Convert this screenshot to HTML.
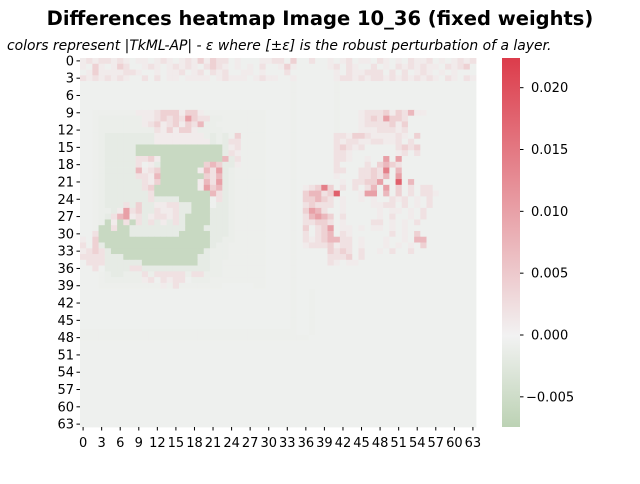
<!DOCTYPE html>
<html><head><meta charset="utf-8"><style>
body{margin:0;background:#fff;width:640px;height:480px;overflow:hidden;font-family:"DejaVu Sans","Liberation Sans",sans-serif}
</style></head><body>
<svg id="fig" width="640" height="480" xmlns="http://www.w3.org/2000/svg" style="font-family:'DejaVu Sans','Liberation Sans',sans-serif">
<defs><linearGradient id="cbg" x1="0" y1="1" x2="0" y2="0">
<stop offset="0" stop-color="#bcd2b4"/><stop offset="0.247" stop-color="#f2f2f2"/><stop offset="1" stop-color="#dc3c4b"/></linearGradient></defs>
<text x="320" y="25" text-anchor="middle" font-size="19.5" font-weight="bold">Differences heatmap Image 10_36 (fixed weights)</text>
<text x="7" y="50" font-size="13.9" font-style="italic">colors represent |TkML-AP| - ε where [±ε] is the robust perturbation of a layer.</text>
<g id="cells"></g>
<g id="axes"></g>
<rect x="502" y="58" width="18" height="369" fill="url(#cbg)"/>
<g id="cbticks"></g>
</svg>
<script>
const rows = [
"01011010 .00.010. 01020211 .0...001 1.2..1.. 0.01.00. 10.0.100 1.0.0101",
"0.20.021 ..010.01 010.1210 .0.0.1.. 020..... 01.10..1 .0.10101 00.1012.",
".0200001 10..0.00 1.01.101 ..00.0.. .1...... .0.10011 1.1.1.01 0.0.0...",
"10101010 ..1.1.00 .0000.01 000.0100 ..0..... .0110101 10101010 10.10.10",
"........ ........ ........ ........ ..f..... .f...... ........ ........",
"........ ........ ........ ........ ..f..... .f...... ........ ........",
"........ ........ ........ ........ ..f..... .f...... ........ ........",
"........ ........ ........ ........ ..f..... .f...... ........ ........",
"........ ........ ........ ........ ..f..... .f...... ........ ........",
"..ffffff f0001222 0220ffff ffffff.. ..f..... .f...011 12021300 ........",
"..fggggg gg001212 14211ggf ffffff.. ..f..... .f...012 14221... ........",
"..fggggg gg012012 0213ggff ffffff.. ..f..... .f...011 11202... ........",
"..fggggg gggg1020 220ggggf ffffff.. ..f..... .f...000 11101... ........",
"..fghhhh hhhh0000 0000ghgh f2ffff.. ..f..... .1102210 00010.2. ........",
"..fghhhh hhhh0000 00000hgh 11ffff.. ..f..... .1011001 1001.1.. ........",
"..fghhhh hGGGGGGG GGGGGGGh 01ffff.. ..f..... .12101.. ...1212. ........",
"..fghhhh hGGGGGGG GGGGGGGh 10ffff.. ..f..... .110.... ...01.1. ........",
"..fghhhh h1120GGG GGGGGGG3 h1ffff.. ..f..... .110..0. .4.4.... ........",
"..fghhhh h1.0hGGG GGGG232h h0ffff.. ..f..... .1....1. 2321.... ........",
"..fghhhh h3012GGG GGG0314h gfffff.. ..f..... .11..112 15.3.... ........",
"..fghhhh h1103GGG GGGG213h gfffff.. ..f..... .0...112 13.4.... ........",
"..fghhhh hh102GGG GGG0314h gfffff.. ..f..... ..0.1122 4..6.3.. ........",
"..fghhhh hh12GGGG GGG0423h gfffff.. ..f.0125 2.1.1.13 .4.2.1.1 1.......",
"..fghhhh hhh1GGGG GGGGG31h gfffff.. ..f.2331 26...044 .3.2.1.1 10......",
"..fghhhh hhh1hhhh GGGGG.1h gfffff.. ..f.2232 1.0..0.0 ..101.0. 1.......",
"..fghhh1 h2hh0011 hhGGG.hh gfffff.. ..f.1211 1.0....0 011.1.0. 1.......",
"..fggh04 12hh1001 hhGGGhhh gfffff.. ..f.2431 ..0..... 0.00.0.1 ........",
"..fgh134 01h01101 hGGGGhhh gfffff.. ..f.1343 2.1..... 0.1..0.1 ........",
"..fgG0G1 G1h1h0h1 hGGGGhhh gfffff.. ..f.1122 1.0....1 1.0.0.1. ........",
"..fGG1GG hhhhhhhh hGGGhhhh gfffff.. ..f.2.12 4.00.0.0 0.0.0... ........",
"..1GGGGG hhhhhhhh GGGGGhhh gfffff.. ..f.1.12 3.10.... ..1.0.2. ........",
"0.2GGGGG GGGGGGGG GGGGGhhg gfffff.. ..f.1012 3311.0.. .0..0.33 ........",
"1.2hGGGG GGGGGGGG GGGGGhgg ffffff.. ..f.0111 2011.0.. .0.0.0.2 ........",
"0121hGGG GGGGGGGG GGGGhggg ffffff.. ..f..... 2121.1.. 0.1..1.. ........",
"1111hhhG GGGGGGGG GGGhhggg ffffff.. ..f..... 1112.1.. ........ ........",
".111hhhh hhGGGGGG GGGhhggf ffffff.. ..f..... 10.00... ........ ........",
"..1.hhhh 11hhhhhh hhhhhggf ffffff.. ..f..... ........ ........ ........",
"...fghhg gg1g1111 1g11gggf ffffff.. ..f..... ........ ........ ........",
"...fgggg gg01.101 1.gggfff ffffff.. ..f..... ........ ........ ........",
"...fffff fffff0f1 fffffff. ....ff.. ..f..... ........ ........ ........",
"........ ........ ........ ........ ..f..f.. ........ ........ ........",
"........ ........ ........ ........ ..f..f.. ........ ........ ........",
"........ ........ ........ ........ ..f..f.. ........ ........ ........",
"........ ........ ........ ........ ..f..f.. ........ ........ ........",
"........ ........ ........ ........ ..f..f.. ........ ........ ........",
"........ ........ ........ ........ ..f..f.. ........ ........ ........",
"........ ........ ........ ........ ..f..f.. ........ ........ ........",
"ffffffff ffffffff ffffffff ffffffff fff..f.. ........ ........ ........",
"ffffffff ffffffff ffffffff ffffffff fffff... ........ ........ ........",
"........ ........ ........ ........ ........ ........ ........ ........",
"........ ........ ........ ........ ........ ........ ........ ........",
"........ ........ ........ ........ ........ ........ ........ ........",
"........ ........ ........ ........ ........ ........ ........ ........",
"........ ........ ........ ........ ........ ........ ........ ........",
"........ ........ ........ ........ ........ ........ ........ ........",
"........ ........ ........ ........ ........ ........ ........ ........",
"........ ........ ........ ........ ........ ........ ........ ........",
"........ ........ ........ ........ ........ ........ ........ ........",
"........ ........ ........ ........ ........ ........ ........ ........",
"........ ........ ........ ........ ........ ........ ........ ........",
"........ ........ ........ ........ ........ ........ ........ ........",
"........ ........ ........ ........ ........ ........ ........ ........",
"........ ........ ........ ........ ........ ........ ........ ........",
"........ ........ ........ ........ ........ ........ ........ ........"
];
const levelChars = ['.','f','g','h','G','0','1','2','3','4','5','6','7'];
const levelValues = [-0.0005,-0.0007,-0.001,-0.0016,-0.0058,0.0008,0.002,0.004,0.007,0.010,0.014,0.018,0.022];
const axisTicks = [0,3,6,9,12,15,18,21,24,27,30,33,36,39,42,45,48,51,54,57,60,63];
const cbarTicks = [-0.005,0,0.005,0.010,0.015,0.020];
const cbarLabels = ["\u22120.005","0.000","0.005","0.010","0.015","0.020"];

const X0=80,Y0=58,W=396,H=369,N=64,VMIN=-0.00744,VMAX=0.0224;
const cw=W/N,ch=H/N;
const xCell=c=>X0+c*cw, yCell=r=>Y0+r*ch;
const yCbar=v=>427-(v-VMIN)/(VMAX-VMIN)*369;
function lerp(a,b,t){return a.map((x,i)=>Math.round(x+(b[i]-x)*t));}
function color(v){
  if(v>=0){const t=Math.min(1,v/VMAX);return 'rgb('+lerp([242,241,241],[220,60,75],t).join(',')+')';}
  const t=Math.min(1,v/VMIN);return 'rgb('+lerp([242,242,242],[188,210,180],t).join(',')+')';
}
const NS='http://www.w3.org/2000/svg';
const g=document.getElementById('cells');
rows.forEach((rs,r)=>{
  const s=rs.replace(/ /g,'').padEnd(64,'.').slice(0,64);
  for(let c=0;c<N;c++){
    const v=levelValues[Math.max(0,levelChars.indexOf(s[c]))];
    const e=document.createElementNS(NS,'rect');
    
    
    e.setAttribute('x',xCell(c).toFixed(2));e.setAttribute('y',yCell(r).toFixed(2));
    e.setAttribute('width',(cw+0.4).toFixed(2));e.setAttribute('height',(ch+0.4).toFixed(2));
    e.setAttribute('fill',color(v));
    g.appendChild(e);
  }
});
const ax=document.getElementById('axes');
axisTicks.forEach(t=>{
  const y=yCell(t+0.5), x=xCell(t+0.5);
  const l1=document.createElementNS(NS,'line');
  
  
  l1.setAttribute('x1',X0-3.5);l1.setAttribute('x2',X0);l1.setAttribute('y1',y);l1.setAttribute('y2',y);l1.setAttribute('stroke','#000');
  ax.appendChild(l1);
  const t1=document.createElementNS(NS,'text');
  
  
  t1.setAttribute('x',X0-6);t1.setAttribute('y',y+4.5);t1.setAttribute('text-anchor','end');t1.setAttribute('font-size','13');
  t1.textContent=t;ax.appendChild(t1);
  const l2=document.createElementNS(NS,'line');
  
  
  l2.setAttribute('x1',x);l2.setAttribute('x2',x);l2.setAttribute('y1',Y0+H);l2.setAttribute('y2',Y0+H+3.5);l2.setAttribute('stroke','#000');
  ax.appendChild(l2);
  const t2=document.createElementNS(NS,'text');
  
  
  t2.setAttribute('x',x);t2.setAttribute('y',Y0+H+20);t2.setAttribute('text-anchor','middle');t2.setAttribute('font-size','13');
  t2.textContent=t;ax.appendChild(t2);
});
const cb=document.getElementById('cbticks');
cbarTicks.forEach((v,i)=>{
  const y=yCbar(v);
  const l=document.createElementNS(NS,'line');
  
  
  l.setAttribute('x1',520);l.setAttribute('x2',523.5);l.setAttribute('y1',y);l.setAttribute('y2',y);l.setAttribute('stroke','#000');
  cb.appendChild(l);
  const t=document.createElementNS(NS,'text');
  
  
  t.setAttribute('x',i===0?526:531);t.setAttribute('y',y+4.5);t.setAttribute('font-size','13');
  t.textContent=cbarLabels[i];cb.appendChild(t);
});
</script>
</body></html>
